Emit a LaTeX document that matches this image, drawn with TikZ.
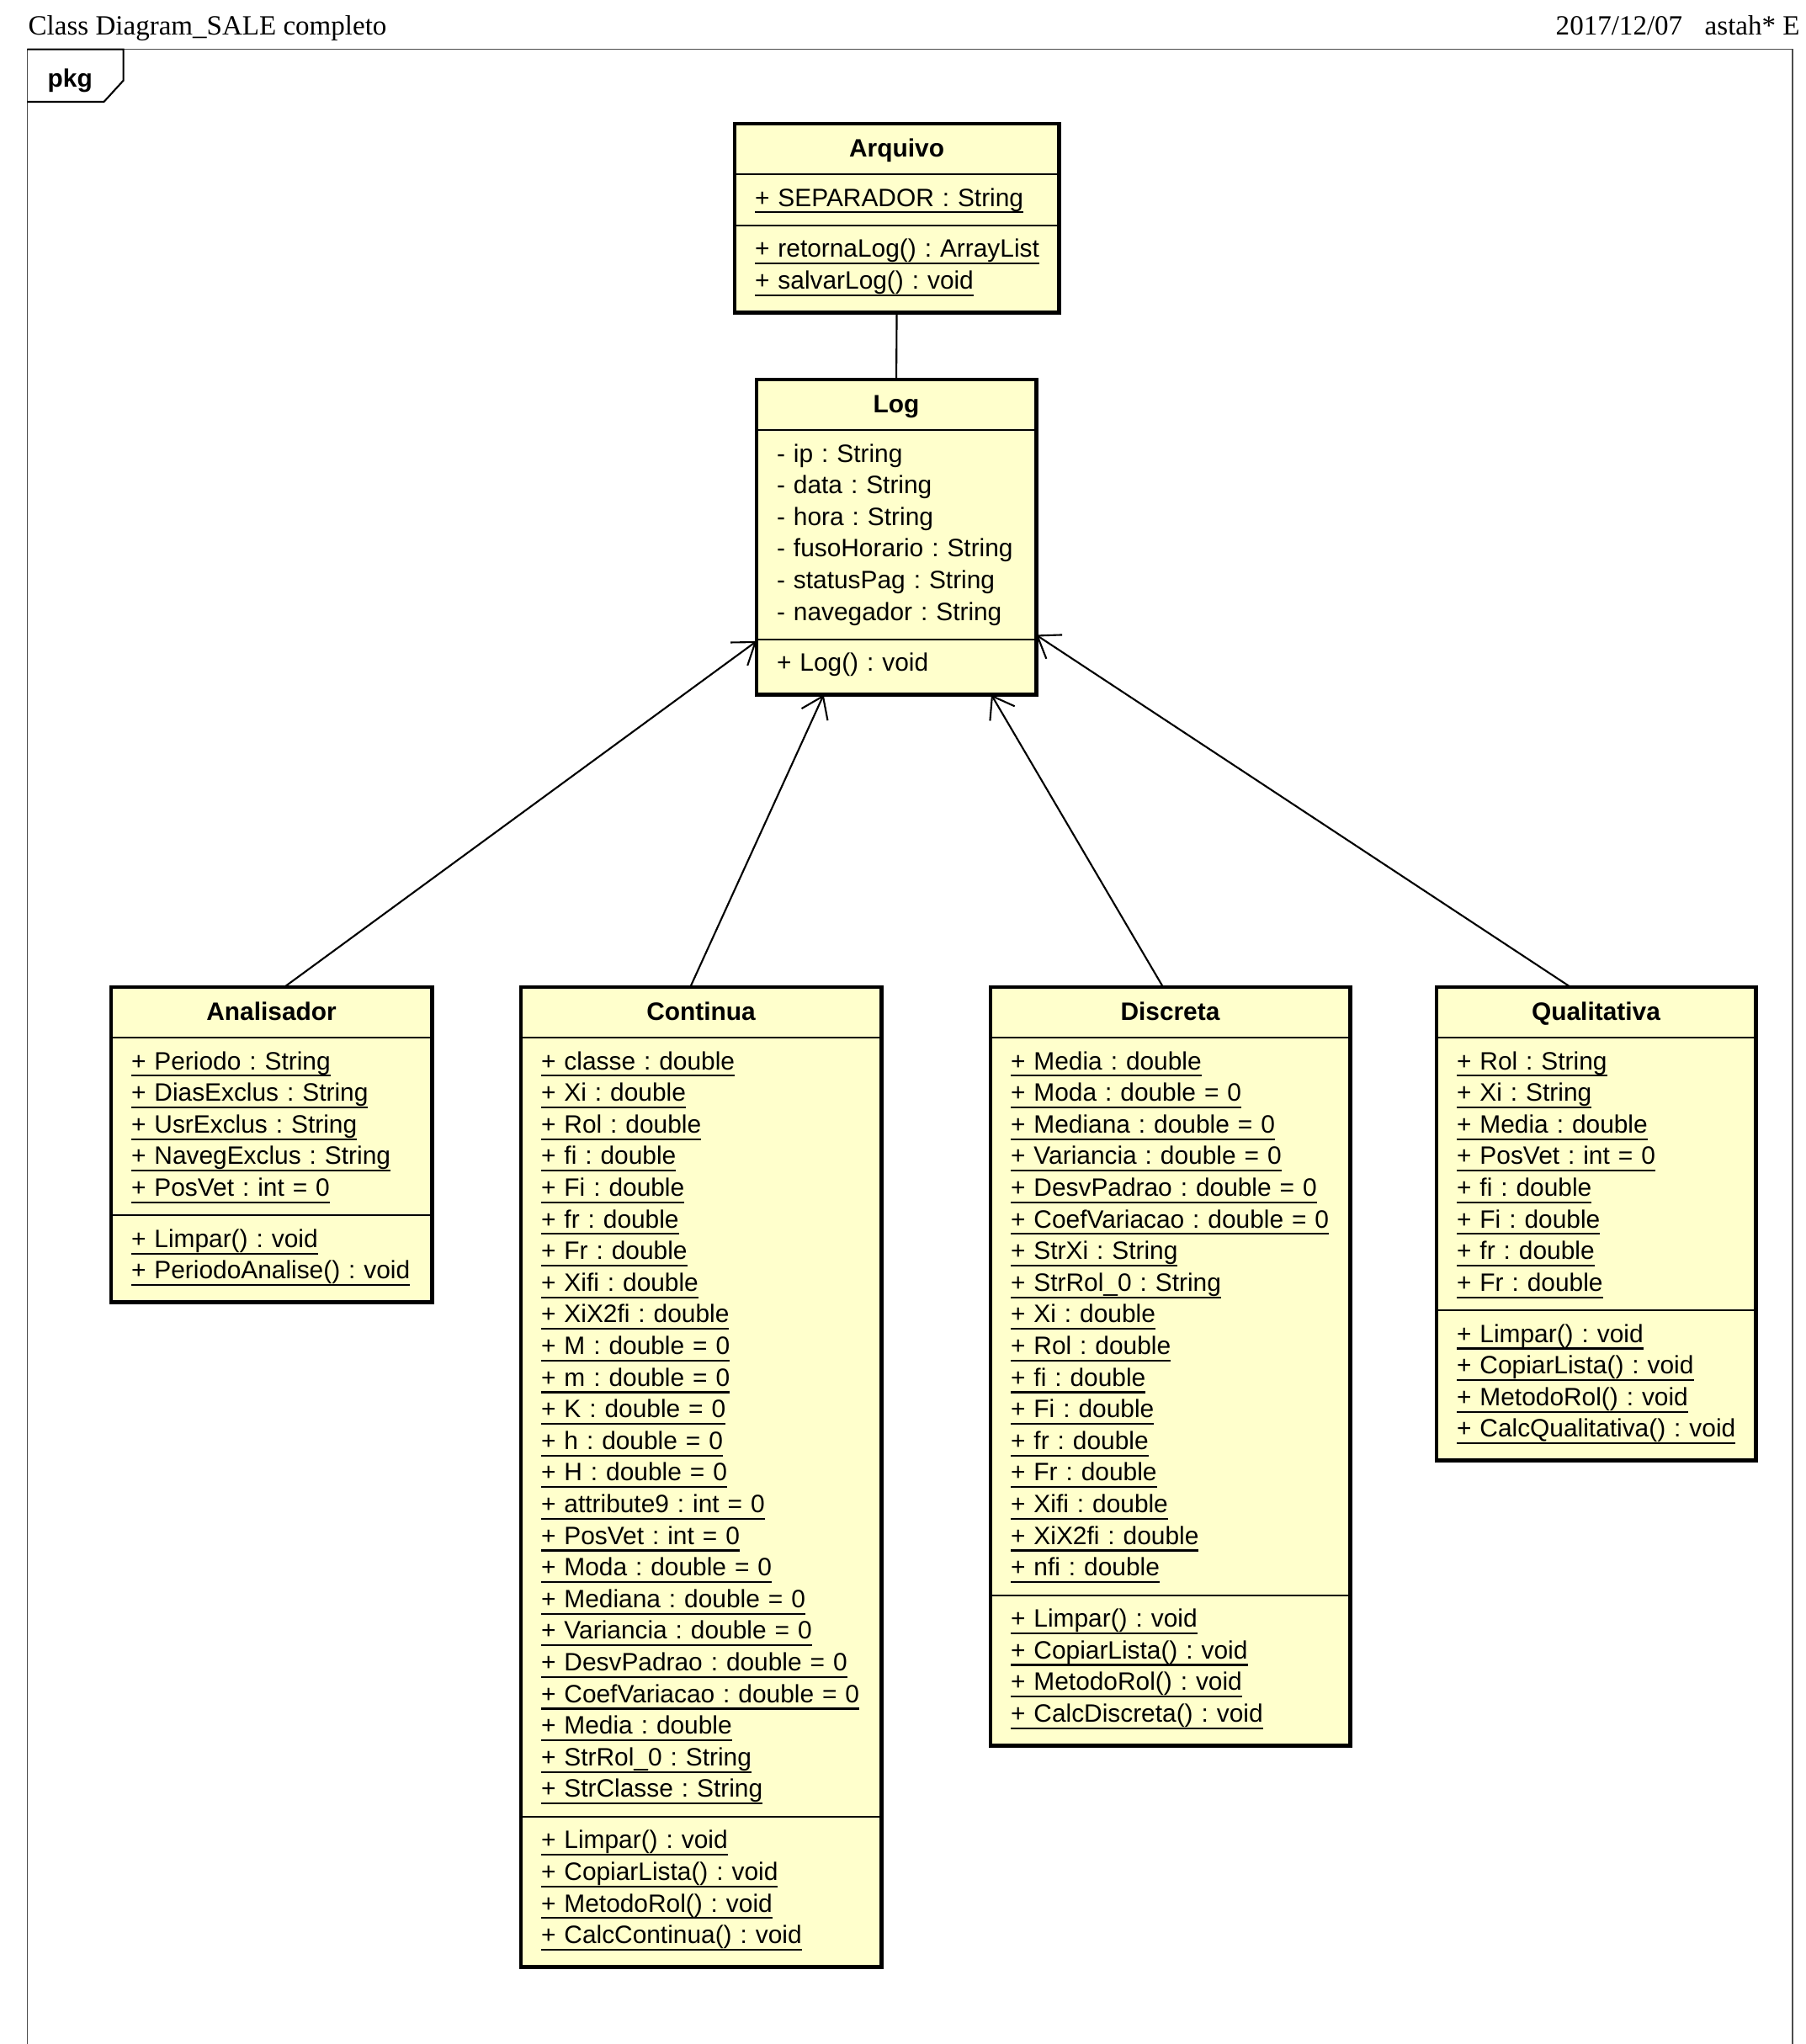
\documentclass[tikz,border=0pt]{standalone}
\usepackage{fontspec}
\setmainfont{Liberation Serif}
\setsansfont{Liberation Sans}
\usetikzlibrary{shapes.multipart,arrows.meta,calc}
\definecolor{classfill}{RGB}{255,255,204}
\newcommand{\cname}[1]{\makebox[\linewidth]{\textbf{#1}}\rule[-2.6pt]{0pt}{10.2pt}}
\newcommand{\stat}[1]{\leavevmode\setbox0\hbox{#1}\rlap{\rule[-2.4pt]{\wd0}{0.6pt}}\box0\strut}
\newcommand{\memb}[1]{\mbox{#1}\strut}
\newcommand{\opsend}{\rule[-4.3pt]{0pt}{4.3pt}}
\begin{document}
\begin{tikzpicture}[
  header/.style={anchor=base west,inner sep=0pt,font=\fontsize{9.4}{11}\selectfont},
  umlclass/.style={rectangle split,rectangle split parts=3,draw,fill=classfill,line width=0.6pt,
    anchor=north west,inner xsep=0.23cm,inner ysep=3pt,
    font=\sffamily\fontsize{8.5}{10.7}\selectfont\frenchspacing},
  assoc/.style={-{Straight Barb[length=2.4mm,width=3.4mm]},line width=0.6pt}]
\useasboundingbox(0,0)rectangle(21.45,-24.29);
\node[header](title)at(0.33,-0.42){Class Diagram\_SALE completo};
\node[header](date)at(18.48,-0.42){2017/12/07};
\node[header](tool)at(20.25,-0.42){astah* E};
\draw[black!70,line width=0.5pt](0.324,-24.5)|-(21.30,-0.586)--(21.30,-24.5);
\draw[line width=0.6pt](0.324,-0.586)-|(1.466,-0.957)--(1.235,-1.21)--(0.324,-1.21);
\node[header,font=\sffamily\bfseries\fontsize{8.5}{10}\selectfont](pkg)at(0.56,-1.04){pkg};
\node[umlclass,text width=3.37cm](arquivo)at(8.73,-1.47){\cname{Arquivo}
  \nodepart{two}\stat{+ SEPARADOR : String}
  \nodepart{three}\stat{+ retornaLog() : ArrayList}\\\stat{+ salvarLog() : void}\opsend};
\node[umlclass,text width=2.84cm](log)at(8.99,-4.51){\cname{Log}
  \nodepart{two}\memb{- ip : String}\\\memb{- data : String}\\\memb{- hora : String}\\
  \memb{- fusoHorario : String}\\\memb{- statusPag : String}\\\memb{- navegador : String}
  \nodepart{three}\memb{+ Log() : void}\opsend};
\node[umlclass,text width=3.33cm](analisador)at(1.32,-11.73){\cname{Analisador}
  \nodepart{two}\stat{+ Periodo : String}\\\stat{+ DiasExclus : String}\\\stat{+ UsrExclus : String}\\
  \stat{+ NavegExclus : String}\\\stat{+ PosVet : int = 0}
  \nodepart{three}\stat{+ Limpar() : void}\\\stat{+ PeriodoAnalise() : void}\opsend};
\node[umlclass,text width=3.80cm](continua)at(6.19,-11.73){\cname{Continua}
  \nodepart{two}\stat{+ classe : double}\\\stat{+ Xi : double}\\\stat{+ Rol : double}\\
  \stat{+ fi : double}\\\stat{+ Fi : double}\\\stat{+ fr : double}\\\stat{+ Fr : double}\\
  \stat{+ Xifi : double}\\\stat{+ XiX2fi : double}\\\stat{+ M : double = 0}\\\stat{+ m : double = 0}\\
  \stat{+ K : double = 0}\\\stat{+ h : double = 0}\\\stat{+ H : double = 0}\\\stat{+ attribute9 : int = 0}\\
  \stat{+ PosVet : int = 0}\\\stat{+ Moda : double = 0}\\\stat{+ Mediana : double = 0}\\
  \stat{+ Variancia : double = 0}\\\stat{+ DesvPadrao : double = 0}\\\stat{+ CoefVariacao : double = 0}\\
  \stat{+ Media : double}\\\stat{+ StrRol\_0 : String}\\\stat{+ StrClasse : String}
  \nodepart{three}\stat{+ Limpar() : void}\\\stat{+ CopiarLista() : void}\\\stat{+ MetodoRol() : void}\\
  \stat{+ CalcContinua() : void}\opsend};
\node[umlclass,text width=3.79cm](discreta)at(11.77,-11.73){\cname{Discreta}
  \nodepart{two}\stat{+ Media : double}\\\stat{+ Moda : double = 0}\\\stat{+ Mediana : double = 0}\\
  \stat{+ Variancia : double = 0}\\\stat{+ DesvPadrao : double = 0}\\\stat{+ CoefVariacao : double = 0}\\
  \stat{+ StrXi : String}\\\stat{+ StrRol\_0 : String}\\\stat{+ Xi : double}\\\stat{+ Rol : double}\\
  \stat{+ fi : double}\\\stat{+ Fi : double}\\\stat{+ fr : double}\\\stat{+ Fr : double}\\
  \stat{+ Xifi : double}\\\stat{+ XiX2fi : double}\\\stat{+ nfi : double}
  \nodepart{three}\stat{+ Limpar() : void}\\\stat{+ CopiarLista() : void}\\\stat{+ MetodoRol() : void}\\
  \stat{+ CalcDiscreta() : void}\opsend};
\node[umlclass,text width=3.31cm](qualitativa)at(17.07,-11.73){\cname{Qualitativa}
  \nodepart{two}\stat{+ Rol : String}\\\stat{+ Xi : String}\\\stat{+ Media : double}\\\stat{+ PosVet : int = 0}\\
  \stat{+ fi : double}\\\stat{+ Fi : double}\\\stat{+ fr : double}\\\stat{+ Fr : double}
  \nodepart{three}\stat{+ Limpar() : void}\\\stat{+ CopiarLista() : void}\\\stat{+ MetodoRol() : void}\\
  \stat{+ CalcQualitativa() : void}\opsend};
\draw[line width=0.6pt](arquivo.south)--(log.north);
\draw[assoc]($(analisador.north west)!0.54!(analisador.north east)$)--($(log.south west)!0.17!(log.north west)$);
\draw[assoc]($(continua.north west)!0.47!(continua.north east)$)--($(log.south west)!0.24!(log.south east)$);
\draw[assoc]($(discreta.north west)!0.48!(discreta.north east)$)--($(log.south west)!0.84!(log.south east)$);
\draw[assoc]($(qualitativa.north west)!0.42!(qualitativa.north east)$)--($(log.south east)!0.19!(log.north east)$);
\foreach \n in {arquivo,log,analisador,continua,discreta,qualitativa}
  \draw[line width=1.4pt](\n.north west)rectangle(\n.south east);
\end{tikzpicture}
\end{document}
